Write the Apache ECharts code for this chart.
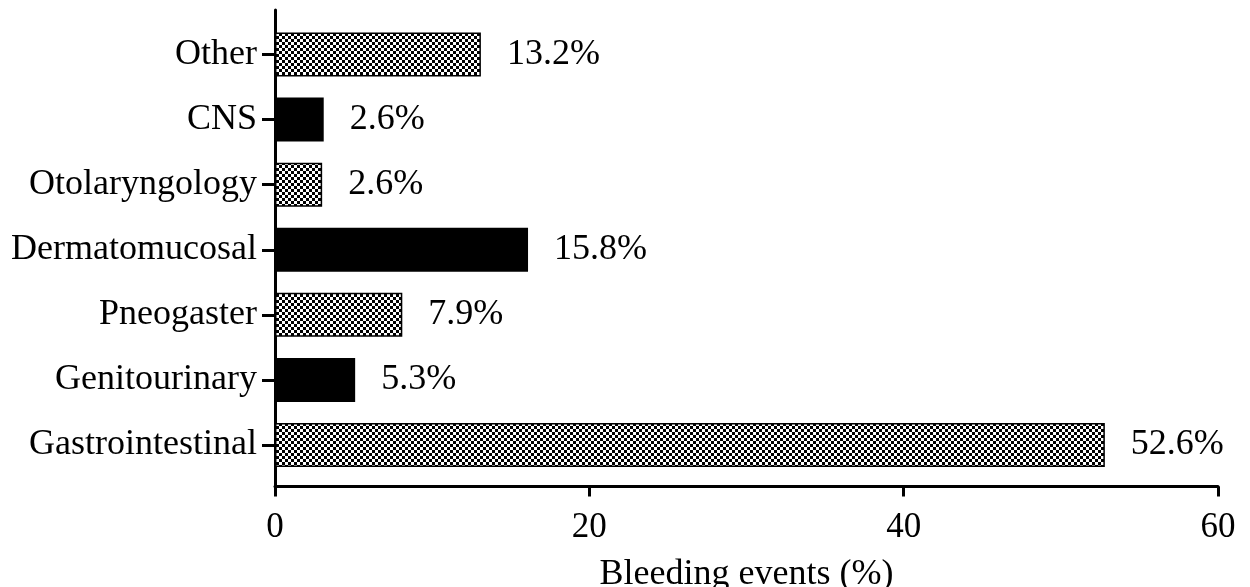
<!DOCTYPE html>
<html>
<head>
<meta charset="utf-8">
<script src="https://cdn.jsdelivr.net/npm/echarts@6/dist/echarts.min.js"></script>
<style>
html,body{margin:0;padding:0;background:#fff;}
#chart{width:1250px;height:587px;}
</style>
</head>
<body>
<div id="chart"></div>
<script>
// Data (top to bottom)
const categories = ['Other', 'CNS', 'Otolaryngology', 'Dermatomucosal', 'Pneogaster', 'Genitourinary', 'Gastrointestinal'];
const values = [13.1, 3.1, 3.0, 16.1, 8.1, 5.1, 52.8];
const labelTexts = ['13.2%', '2.6%', '2.6%', '15.8%', '7.9%', '5.3%', '52.6%'];
const fillKinds = ['check', 'solid', 'check', 'solid', 'check', 'solid', 'check'];
const xTicks = [0, 20, 40, 60];

// checker pattern
const pc = document.createElement('canvas');
pc.width = 6; pc.height = 6;
const g = pc.getContext('2d');
g.fillStyle = '#fff'; g.fillRect(0, 0, 6, 6);
g.fillStyle = '#000'; g.fillRect(0, 0, 3, 3); g.fillRect(3, 3, 3, 3);

const FONT = 'Liberation Serif';
const chart = echarts.init(document.getElementById('chart'), null, {renderer: 'canvas'});

const data = values.map((v, i) => ({
  value: v,
  itemStyle: fillKinds[i] === 'check'
    ? {color: {image: pc, repeat: 'repeat'}, borderColor: '#000', borderWidth: 1.5}
    : {color: '#000', borderColor: '#000', borderWidth: 0}
}));

chart.setOption({
  animation: false,
  grid: [
    {left: 275, right: 32, top: 22, bottom: 109.5, containLabel: false, outerBoundsMode: 'none'},
    {left: 275, right: 32, top: 10, bottom: 100, containLabel: false, outerBoundsMode: 'none'}
  ],
  xAxis: [
    {
      gridIndex: 0, type: 'value', min: xTicks[0], max: xTicks[xTicks.length - 1], interval: 20,
      offset: 9,
      axisLine: {show: true, lineStyle: {color: '#000', width: 3}},
      axisTick: {show: true, length: 10, lineStyle: {color: '#000', width: 3}},
      splitLine: {show: false},
      axisLabel: {color: '#000', fontFamily: FONT, fontSize: 35, margin: 24},
      name: 'Bleeding events (%)', nameLocation: 'middle', nameGap: 70,
      nameTextStyle: {color: '#000', fontFamily: FONT, fontSize: 36}
    },
    {gridIndex: 1, type: 'value', show: false, min: 0, max: 60}
  ],
  yAxis: [
    {
      gridIndex: 0, type: 'category', data: categories, inverse: true,
      axisLine: {show: false},
      axisTick: {show: true, alignWithLabel: true, length: 13, lineStyle: {color: '#000', width: 3}},
      axisLabel: {color: '#000', fontFamily: FONT, fontSize: 36, margin: 18}
    },
    {
      gridIndex: 1, type: 'value', min: 0, max: 1,
      axisLine: {show: true, lineStyle: {color: '#000', width: 3}},
      axisTick: {show: false}, axisLabel: {show: false}, splitLine: {show: false}
    }
  ],
  series: [{
    type: 'bar', xAxisIndex: 0, yAxisIndex: 0,
    data: data, barWidth: 44,
    label: {
      show: true, position: 'right', distance: 26,
      color: '#000', fontFamily: FONT, fontSize: 36,
      formatter: p => labelTexts[p.dataIndex]
    }
  }]
});
</script>
</body>
</html>
